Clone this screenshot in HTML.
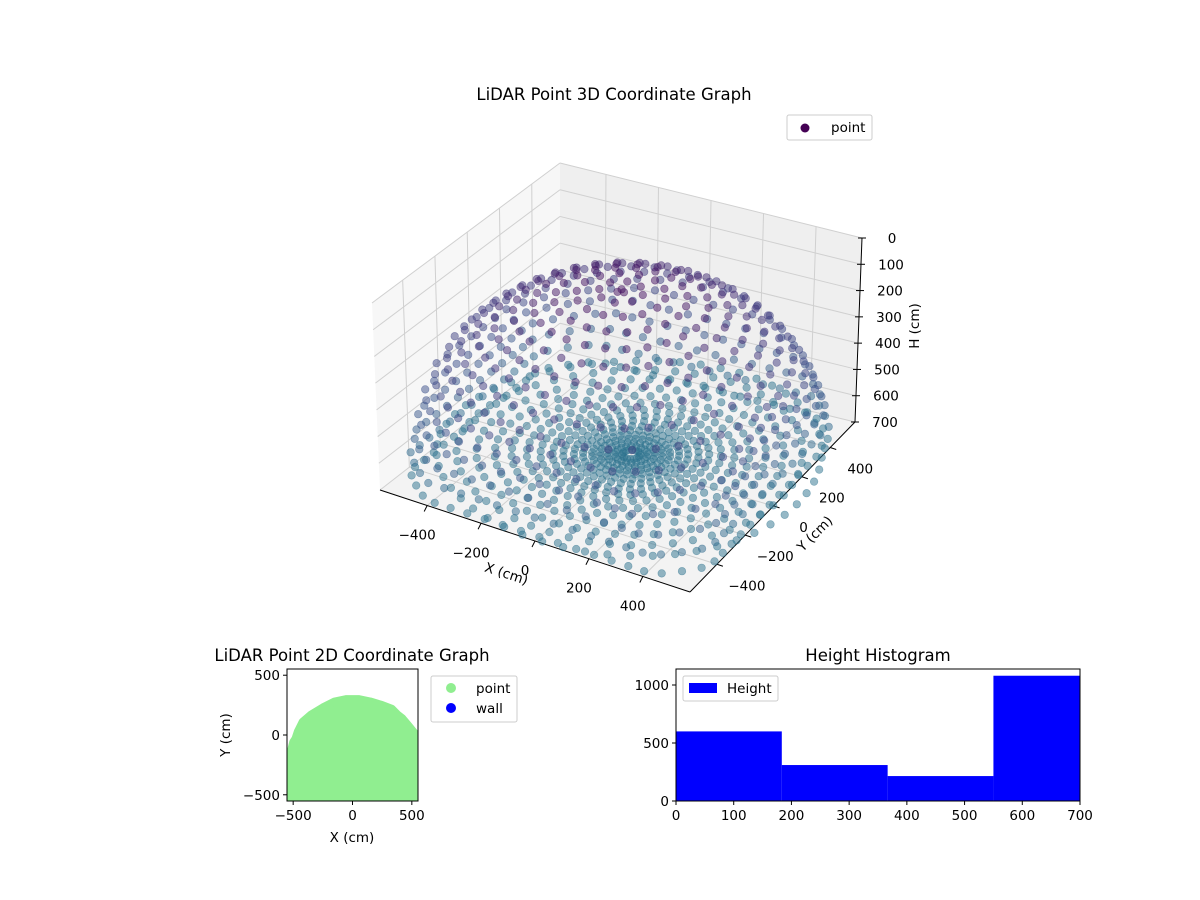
<!DOCTYPE html>
<html><head><meta charset="utf-8"><style>
html,body{margin:0;padding:0;background:#fff}
svg{display:block;font-family:"DejaVu Sans","Liberation Sans",sans-serif}
</style></head><body>
<svg id="fig" width="1200" height="900" viewBox="0 0 1200 900">
<rect width="1200" height="900" fill="#fff"/>
<text x="614" y="100" font-size="16.5" text-anchor="middle">LiDAR Point 3D Coordinate Graph</text>
<g id="g3d"></g>
<g>
<rect x="787" y="115" width="85" height="25" fill="#fff" stroke="#ccc" rx="2"/>
<circle cx="805" cy="128" r="4.5" fill="#440154"/>
<text x="831" y="132" font-size="13.5">point</text>
</g>
<g id="g2d"></g>
<g id="ghist"></g>
</svg>
<script>
// ---------- 3D data ----------
const elevAngles=[0,6,12,18,24,30,36,42,48,54,60,66,72,78,84,89];
const ringCounts=[64,62,60,58,54,50,46,42,38,34,30,26,20,14,8,3];
const floorRadii=[30,55,80,105,130,160,190,225,260,300,345,395,450,510,575,640];
const floorCounts=[16,20,24,28,32,34,36,38,40,42,44,46,48,50,52,54];
const zTicks=[0,100,200,300,400,500,600,700];
const xTicks=[-400,-200,0,200,400];
const yTicks=[-400,-200,0,200,400];

const NS="http://www.w3.org/2000/svg";
function el(tag,attrs,parent){const e=document.createElementNS(NS,tag);for(const k in attrs)e.setAttribute(k,attrs[k]);parent.appendChild(e);return e;}

const XMIN=-575,XMAX=575,YMIN=-590,YMAX=575,ZMIN=0,ZMAX=700;
const C={bL:[380,490],bF:[690,592],bR:[855,422],bB:[560,350],tL:[372,303],tF:[685,400],tR:[862,238],tB:[560,163]};
function bil(a,b,c,d,u,v){
 return [a[0]*(1-u)*(1-v)+b[0]*u*(1-v)+c[0]*u*v+d[0]*(1-u)*v, a[1]*(1-u)*(1-v)+b[1]*u*(1-v)+c[1]*u*v+d[1]*(1-u)*v];}
function proj(x,y,z){
 const u=(x-XMIN)/(XMAX-XMIN),v=(y-YMIN)/(YMAX-YMIN),w=(z-ZMIN)/(ZMAX-ZMIN);
 const top=bil(C.tL,C.tF,C.tR,C.tB,u,v),bot=bil(C.bL,C.bF,C.bR,C.bB,u,v);
 return [top[0]*(1-w)+bot[0]*w, top[1]*(1-w)+bot[1]*w];}
const g3=document.getElementById('g3d');
function poly(pts,fill,parent,name){const p=el('polygon',{points:pts.map(p=>p.join(',')).join(' '),fill:fill,stroke:'none'},parent);return p;}
poly([C.tL,C.tB,C.bB,C.bL],'#f7f7f7',g3,'pane-left');
poly([C.tB,C.tR,C.bR,C.bB],'#efefef',g3,'pane-right');
poly([C.bL,C.bB,C.bR,C.bF],'#f3f3f3',g3,'pane-floor');
function line(a,b,stroke,w,parent,name){const l=el('line',{x1:a[0],y1:a[1],x2:b[0],y2:b[1],stroke:stroke,'stroke-width':w},parent);return l;}
const gc='#d0d0d0';
xTicks.forEach(t=>{line(proj(t,YMAX,0),proj(t,YMAX,700),gc,1,g3,'x-grid');line(proj(t,YMIN,700),proj(t,YMAX,700),gc,1,g3,'x-grid');});
yTicks.forEach(t=>{line(proj(XMIN,t,0),proj(XMIN,t,700),gc,1,g3,'y-grid');line(proj(XMIN,t,700),proj(XMAX,t,700),gc,1,g3,'y-grid');});
zTicks.forEach(t=>{line(proj(XMIN,YMIN,t),proj(XMIN,YMAX,t),gc,1,g3,'z-grid');line(proj(XMIN,YMAX,t),proj(XMAX,YMAX,t),gc,1,g3,'z-grid');});
line(C.bL,C.bF,'#000',1,g3,'x-axis-line');
line(C.bF,C.bR,'#000',1,g3,'y-axis-line');
line(C.tR,C.bR,'#000',1,g3,'z-axis-line');
xTicks.forEach(t=>{const a=proj(t,YMIN,700);line(a,[a[0]-3,a[1]+6],'#000',1,g3,'x-tick');const tx=el('text',{x:a[0]-10,y:a[1]+34,'font-size':13.5,'text-anchor':'middle'},g3);tx.textContent=(t<0?'\u2212':'')+Math.abs(t);});
yTicks.forEach(t=>{const a=proj(XMAX,t,700);line(a,[a[0]+6,a[1]+2],'#000',1,g3,'y-tick');const tx=el('text',{x:a[0]+30,y:a[1]+26,'font-size':13.5,'text-anchor':'middle'},g3);tx.textContent=(t<0?'\u2212':'')+Math.abs(t);});
zTicks.forEach(t=>{const a=proj(XMAX,YMAX,t);line([a[0]-4,a[1]],[a[0]+4,a[1]],'#000',1,g3,'z-tick');const tx=el('text',{x:a[0]+30,y:a[1]+5,'font-size':13.5,'text-anchor':'middle'},g3);tx.textContent=t;});
let t1=el('text',{x:0,y:0,'font-size':13.5,'text-anchor':'middle',transform:'translate(505,578) rotate(18)'},g3);t1.textContent='X (cm)';
let t2=el('text',{x:0,y:0,'font-size':13.5,'text-anchor':'middle',transform:'translate(818,537) rotate(-45)'},g3);t2.textContent='Y (cm)';
let t3=el('text',{x:0,y:0,'font-size':13.5,'text-anchor':'middle',transform:'translate(919,326) rotate(-90)'},g3);t3.textContent='H (cm)';
const stops=[[68,1,84],[65,55,125],[59,82,139],[44,114,142]];
function vir(f){f=Math.max(0,Math.min(1,f));const s=f*(stops.length-1),i=Math.min(stops.length-2,Math.floor(s)),r=s-i;const a=stops[i],b=stops[i+1];return `rgb(${Math.round(a[0]+(b[0]-a[0])*r)},${Math.round(a[1]+(b[1]-a[1])*r)},${Math.round(a[2]+(b[2]-a[2])*r)})`;}
const pts=[];const RH=700,RV=640,CX=0,CY=0,LIM=560;
const clampv=v=>Math.max(-LIM,Math.min(LIM,v));
elevAngles.forEach((e,i)=>{const n=ringCounts[i],ph=e*Math.PI/180;for(let k=0;k<n;k++){const a=2*Math.PI*k/n+i*0.13;let x=clampv(CX+RH*Math.cos(ph)*Math.cos(a)),y=clampv(CY+RH*Math.cos(ph)*Math.sin(a));const z=700-RV*Math.sin(ph);pts.push([x,y,z]);}});
floorRadii.forEach((r,i)=>{const n=floorCounts[i];for(let k=0;k<n;k++){const a=2*Math.PI*k/n+i*0.2;pts.push([CX+r*Math.cos(a),CY+60+r*Math.sin(a),700]);}});
pts.sort((p,q)=>((q[1]-q[0]*0.5)-(p[1]-p[0]*0.5)));
const gp=el('g',{},g3);
pts.forEach(p=>{const s=proj(p[0],p[1],p[2]);const c=el('circle',{cx:s[0].toFixed(1),cy:s[1].toFixed(1),r:3.8,fill:vir(p[2]/700),'fill-opacity':0.5,stroke:vir(p[2]/700),'stroke-opacity':0.5,'stroke-width':0.6},gp);});

// ---------- 2D plot ----------
const x2Ticks=[-500,0,500];const y2Ticks=[-500,0,500];
const g2=document.getElementById('g2d');
const A2={l:287,t:669,r:418,b:801,min:-552,max:552};
const sx2=v=>A2.l+(v-A2.min)/(A2.max-A2.min)*(A2.r-A2.l);
const sy2=v=>A2.b-(v-A2.min)/(A2.max-A2.min)*(A2.b-A2.t);
let tt=el('text',{x:352,y:661,'font-size':16.5,'text-anchor':'middle'},g2);tt.textContent='LiDAR Point 2D Coordinate Graph';
const cp=el('clipPath',{id:'c2'},g2);el('rect',{x:A2.l,y:A2.t,width:A2.r-A2.l,height:A2.b-A2.t},cp);
const blobX=[-560,-560,-520,-500,-480,-470,-460,-450,-420,-350,-250,-150,-50,50,150,250,330,380,420,470,520,560,560,440,360,380,340,250,-560];
const blobY=[-560,-160,-140,-60,-30,0,30,50,110,170,230,280,300,300,280,250,220,170,140,80,20,-50,-560,-560,-460,-560,-560,-560,-560];
const bp=el('path',{d:blobX.map((x,i)=>(i?'L':'M')+sx2(x).toFixed(1)+','+sy2(blobY[i]).toFixed(1)).join('')+'Z',fill:'#90ee90','clip-path':'url(#c2)',stroke:'#90ee90','stroke-width':8,'stroke-linejoin':'round'},g2);

const b2=el('rect',{x:A2.l,y:A2.t,width:A2.r-A2.l,height:A2.b-A2.t,fill:'none',stroke:'#000','stroke-width':1},g2);
x2Ticks.forEach(t=>{const x=sx2(t);line([x,A2.b],[x,A2.b+4],'#000',1,g2,'x2-tick');const tx=el('text',{x:x,y:A2.b+19,'font-size':13.5,'text-anchor':'middle'},g2);tx.textContent=(t<0?'\u2212':'')+Math.abs(t);});
y2Ticks.forEach(t=>{const y=sy2(t);line([A2.l-4,y],[A2.l,y],'#000',1,g2,'y2-tick');const tx=el('text',{x:A2.l-7,y:y+5,'font-size':13.5,'text-anchor':'end'},g2);tx.textContent=(t<0?'\u2212':'')+Math.abs(t);});
let xa=el('text',{x:352,y:842,'font-size':13.5,'text-anchor':'middle'},g2);xa.textContent='X (cm)';
let ya=el('text',{x:0,y:0,'font-size':13.5,'text-anchor':'middle',transform:'translate(230,735) rotate(-90)'},g2);ya.textContent='Y (cm)';
const lg=el('g',{},g2);
el('rect',{x:431,y:676,width:86,height:46,fill:'#fff',stroke:'#ccc',rx:2},lg);
el('circle',{cx:451,cy:688,r:5,fill:'#90ee90'},lg);el('circle',{cx:451,cy:708,r:5,fill:'#0000ff'},lg);
let l1=el('text',{x:476,y:693,'font-size':13.5},lg);l1.textContent='point';
let l2=el('text',{x:476,y:713,'font-size':13.5},lg);l2.textContent='wall';

// ---------- Histogram ----------
const binEdges=[0,183.3,366.7,550,733.3];
const binCounts=[600,310,215,1080];
const hxTicks=[0,100,200,300,400,500,600,700];
const hyTicks=[0,500,1000];
const gh=document.getElementById('ghist');
const H={l:676,t:669,r:1080,b:801,xmax:700,ymax:1138};
const hx=v=>H.l+Math.min(v,H.xmax)/H.xmax*(H.r-H.l);
const hy=v=>H.b-v/H.ymax*(H.b-H.t);
let ht=el('text',{x:878,y:661,'font-size':16.5,'text-anchor':'middle'},gh);ht.textContent='Height Histogram';
binCounts.forEach((c,i)=>{const x0=hx(binEdges[i]),x1=hx(binEdges[i+1]);const r=el('rect',{x:x0,y:hy(c),width:x1-x0,height:H.b-hy(c),fill:'#0000ff'},gh);});
const hf=el('rect',{x:H.l,y:H.t,width:H.r-H.l,height:H.b-H.t,fill:'none',stroke:'#000'},gh);
hxTicks.forEach(t=>{const x=hx(t);line([x,H.b],[x,H.b+4],'#000',1,gh,'hist-x-tick');const tx=el('text',{x:x,y:H.b+19,'font-size':13.5,'text-anchor':'middle'},gh);tx.textContent=t;});
hyTicks.forEach(t=>{const y=hy(t);line([H.l-4,y],[H.l,y],'#000',1,gh,'hist-y-tick');const tx=el('text',{x:H.l-7,y:y+5,'font-size':13.5,'text-anchor':'end'},gh);tx.textContent=t;});
const hl=el('g',{},gh);
el('rect',{x:683,y:676,width:95,height:25,fill:'#fff',stroke:'#ccc',rx:2},hl);
el('rect',{x:689,y:683,width:28,height:10,fill:'#0000ff'},hl);
let hlt=el('text',{x:727,y:693,'font-size':13.5},hl);hlt.textContent='Height';
</script>
</body></html>
